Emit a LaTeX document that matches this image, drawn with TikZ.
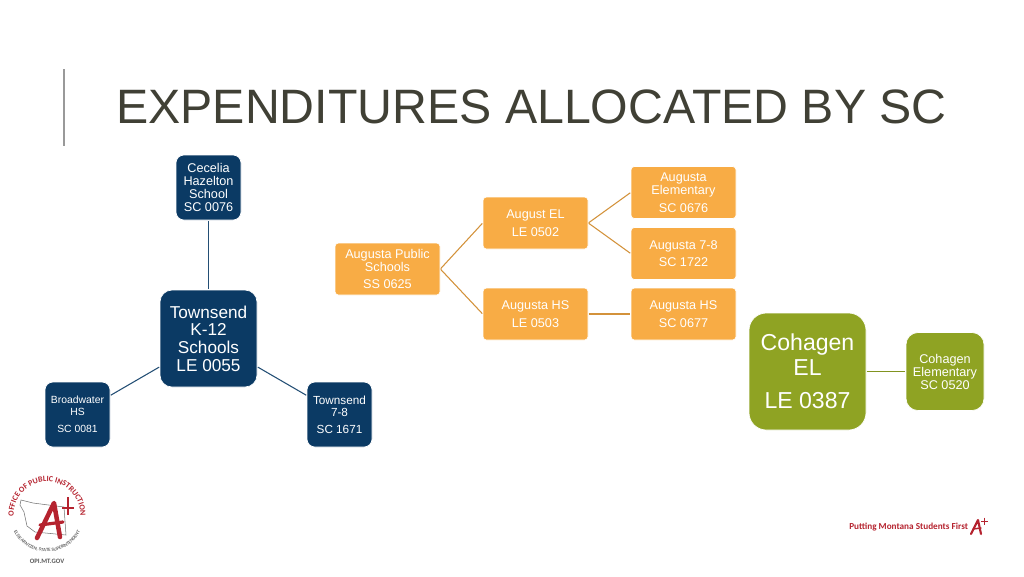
\documentclass[tikz,border=0pt]{standalone}
\usepackage{fontspec}
\setmainfont{Liberation Sans}
\newfontfamily\logofont{Carlito}
\usepackage{xcolor}
\usetikzlibrary{decorations.text}
\definecolor{opiblue}{HTML}{0B3A64}
\definecolor{opiorange}{HTML}{F8AC45}
\definecolor{opigreen}{HTML}{8FA323}
\definecolor{opired}{HTML}{B5232F}
\definecolor{titlegray}{HTML}{404035}
\tikzset{
    box/.style={draw=white, line width=0.5pt, text=white, align=center, inner sep=0pt, anchor=center},
    bluebox/.style={box, fill=opiblue, rounded corners=6pt, minimum size=48.75pt, font=\fontsize{9.5}{9.75}\selectfont},
    bigblue/.style={box, fill=opiblue, rounded corners=9pt, minimum size=72.75pt, font=\fontsize{12.9}{13.2}\selectfont},
    orangebox/.style={box, fill=opiorange, rounded corners=2.5pt, minimum width=78.75pt, minimum height=39pt, font=\fontsize{9.5}{9.75}\selectfont},
    greenbox/.style={box, fill=opigreen, rounded corners=9pt, minimum size=58.5pt, font=\fontsize{9.5}{9.75}\selectfont},
    biggreen/.style={box, fill=opigreen, rounded corners=13pt, minimum size=87.75pt, font=\fontsize{17.3}{18.2}\selectfont},
    link/.style={line width=0.8pt, shorten >=0.4pt, shorten <=0.4pt},
}
\begin{document}
\begin{tikzpicture}[x=0.75pt,y=-0.75pt]
    \useasboundingbox (0,0) rectangle (1024,576);
    % title
    \draw[color=black!40, line width=0.9pt] (64,69) -- (64,146);
    \node[anchor=west, inner sep=0pt, text=titlegray, font=\fontsize{36.2}{40}\selectfont] (title) at (116,107) {EXPENDITURES ALLOCATED BY SC};
    % Townsend
    \node[bluebox] (cecelia) at (208.5,187.5) {Cecelia\\Hazelton\\School\\SC 0076};
    \node[bigblue] (townsend) at (208.5,338.5) {Townsend\\K-12\\Schools\\LE 0055};
    \node[bluebox, font=\fontsize{7.8}{9.2}\selectfont] (broadwater) at (77.5,414.5) {Broadwater\\HS\\[3.5pt]SC 0081};
    \node[bluebox, font=\fontsize{8.8}{9.2}\selectfont] (townseven) at (339.5,414.5) {Townsend\\7-8\\[3.5pt]SC 1671};
    \foreach \school in {cecelia,broadwater,townseven}
        \draw[link, color=opiblue!90!white] (townsend) -- (\school);
    % Augusta
    \node[orangebox] (public) at (387.5,269) {Augusta Public\\Schools\\[3.5pt]SS 0625};
    \node[orangebox] (augel) at (535.5,223) {August EL\\[3.5pt]LE 0502};
    \node[orangebox] (aughs) at (535.5,314) {Augusta HS\\[3.5pt]LE 0503};
    \node[orangebox] (augelem) at (683.5,192.5) {Augusta\\Elementary\\[3.5pt]SC 0676};
    \node[orangebox] (augseven) at (683.5,253.5) {Augusta 7-8\\[3.5pt]SC 1722};
    \node[orangebox] (augsc) at (683.5,314) {Augusta HS\\[3.5pt]SC 0677};
    \draw[link, color=opiorange!85!black] (public.east) -- (augel.west);
    \draw[link, color=opiorange!85!black] (public.east) -- (aughs.west);
    \draw[link, color=opiorange!85!black] (augel.east) -- (augelem.west);
    \draw[link, color=opiorange!85!black] (augel.east) -- (augseven.west);
    \draw[link, color=opiorange!85!black] (aughs.east) -- (augsc.west);
    % Cohagen
    \node[biggreen] (cohagen) at (807.5,371.5) {Cohagen\\EL\\[7pt]LE 0387};
    \node[greenbox] (cohelem) at (945,371.5) {Cohagen\\Elementary\\SC 0520};
    \draw[link, color=opigreen!90!black] (cohagen) -- (cohelem);
    % logo
    \coordinate (seal) at (47,515);
    \draw[color=black!55, line width=0.4pt] (20,505) -- (21,500) -- (33,503) -- (64,507) -- (66,535) -- (35,532) -- (27,526) -- (24,512) -- cycle;
    \path[decorate, decoration={text along path, text align=center, text color=opired, text={|\fontsize{6}{7}\logofont\bfseries|OFFICE OF PUBLIC INSTRUCTION}}] ([shift={(180:25pt)}]seal) arc[start angle=180, end angle=0, radius=25pt];
    \path[decorate, decoration={text along path, text align=center, text color=black!60, text={|\fontsize{3.6}{4}\logofont\bfseries|ELSIE ARNTZEN, STATE SUPERINTENDENT}}] ([shift={(195:27.7pt)}]seal) arc[start angle=195, end angle=345, radius=27.7pt];
    \node[inner sep=0pt, text=black!65, font=\fontsize{5}{6}\logofont\bfseries] (opi) at (47,561) {OPI.MT.GOV};
    \draw[color=opired, line width=3.4pt, line cap=round, line join=round] (37,538) -- (54,503) -- (60,537);
    \draw[color=opired, line width=2.4pt, line cap=round] (40,525) -- (63,522);
    \draw[color=opired, line width=1.6pt] (62,508) -- (74,508) (68,497) -- (68,515);
    % slogan
    \node[anchor=west, inner sep=0pt, text=opired, font=\fontsize{6.9}{9}\logofont\bfseries] (slogan) at (849,527.5) {Putting Montana Students First};
    \draw[color=opired, line width=1.6pt, line cap=round, line join=round] (971,534) -- (978,520) -- (981,534);
    \draw[color=opired, line width=1.1pt, line cap=round] (973,529) -- (981,528);
    \draw[color=opired, line width=0.7pt] (981,521) -- (988,521) (984.5,517.5) -- (984.5,524.5);
\end{tikzpicture}
\end{document}
